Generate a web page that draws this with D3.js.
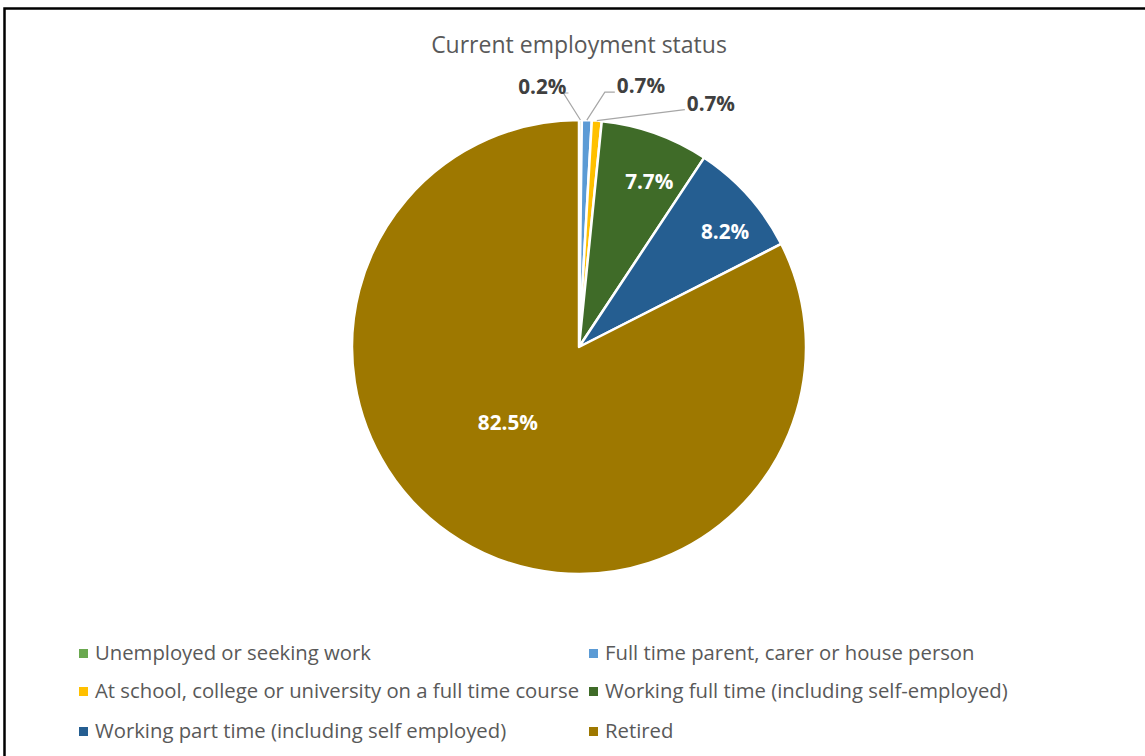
<!DOCTYPE html>
<html><head><meta charset="utf-8">
<script src="https://cdn.jsdelivr.net/npm/d3@7"></script>
<style>
html,body{margin:0;padding:0;background:#fff;}
svg{display:block;}
text{font-family:"Open Sans",Lato,sans-serif;}
</style></head>
<body>
<svg id="chart" width="1145" height="756"></svg>
<script>
const categories = [
  "Unemployed or seeking work",
  "Full time parent, carer or house person",
  "At school, college or university on a full time course",
  "Working full time (including self-employed)",
  "Working part time (including self employed)",
  "Retired"
];
const values = [0.2, 0.7, 0.7, 7.7, 8.2, 82.5];
const colors = ["#6aa84f", "#5b9bd5", "#ffc000", "#3f6b28", "#255e91", "#9e7800"];
const labelText = ["0.2%", "0.7%", "0.7%", "7.7%", "8.2%", "82.5%"];

const svg = d3.select("#chart");
const W = 1145, H = 756;

svg.append("rect").attr("x", 0).attr("y", 0).attr("width", W).attr("height", H).attr("fill", "#fff");
svg.append("path").attr("d", `M4.5,${H+5} L4.5,8.5 L${W+5},8.5`).attr("fill", "none").attr("stroke", "#000").attr("stroke-width", 2.5);

svg.append("text").attr("x", 579).attr("y", 53).attr("text-anchor", "middle")
  .attr("font-size", 23).attr("fill", "#595959").text("Current employment status");

const cx = 579, cy = 347, r = 227;
const g = svg.append("g").attr("transform", `translate(${cx},${cy})`);
const pie = d3.pie().sort(null).value(d => d)(values);
const arc = d3.arc().innerRadius(0).outerRadius(r);

g.selectAll("path.slice").data(pie).enter().append("path")
  .attr("class", "slice")
  .attr("d", arc)
  .attr("fill", (d, i) => colors[i])
  .attr("stroke", "#fff").attr("stroke-width", 2.5).attr("stroke-linejoin", "round");

const mid = d => (d.startAngle + d.endAngle) / 2;
const pt = (a, rr) => [Math.sin(a) * rr, -Math.cos(a) * rr];

const insideFactor = {3: 0.79, 4: 0.82, 5: 0.46};
const insideAngleShift = {3: 0.06, 4: 0.06, 5: 0.2};
pie.forEach((d, i) => {
  if (insideFactor[i] !== undefined) {
    const [x, y] = pt(mid(d) + insideAngleShift[i], r * insideFactor[i]);
    g.append("text").attr("x", x).attr("y", y + 7).attr("text-anchor", "middle")
      .attr("font-size", 20.7).attr("font-weight", "bold").attr("fill", "#fff").text(labelText[i]);
  }
});

const outside = [
  {i: 0, dx: -12, dy: -27, anchor: "end", elbow: -5},
  {i: 1, dx: 28, dy: -28, anchor: "start", elbow: -10},
  {i: 2, dx: 88, dy: -11, anchor: "start", elbow: 0}
];
outside.forEach(o => {
  const d = pie[o.i];
  const [px, py] = pt(mid(d), r);
  const lx = px + o.dx, ly = py + o.dy;
  const ex = lx + o.elbow;
  g.append("path").attr("d", `M${px},${py} L${ex},${ly} L${lx},${ly}`)
    .attr("fill", "none").attr("stroke", "#a6a6a6").attr("stroke-width", 1.2);
  g.append("text").attr("x", lx + (o.anchor === "end" ? -2 : 2)).attr("y", ly + 1)
    .attr("text-anchor", o.anchor).attr("font-size", 20.7).attr("font-weight", "bold")
    .attr("fill", "#404040").text(labelText[o.i]);
});

const legCols = [79, 589];
const legRows = [653, 691, 731];
categories.forEach((c, i) => {
  const x = legCols[i % 2], y = legRows[Math.floor(i / 2)];
  svg.append("rect").attr("x", x).attr("y", y - 4).attr("width", 9).attr("height", 9).attr("fill", colors[i]);
  svg.append("text").attr("x", x + 16).attr("y", y + 7).attr("font-size", 20.3).attr("fill", "#595959").text(c);
});
</script>
</body></html>
